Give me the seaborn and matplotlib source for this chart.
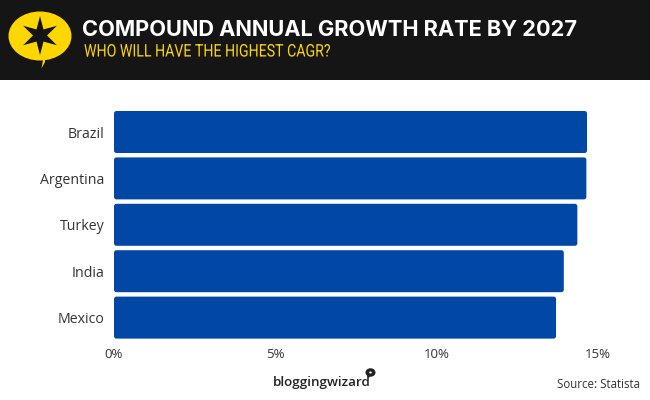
import matplotlib
matplotlib.use("Agg")
import matplotlib.pyplot as plt
from matplotlib.patches import Ellipse, FancyBboxPatch, Polygon, Rectangle
from matplotlib.patheffects import AbstractPathEffect
from matplotlib.transforms import Affine2D
import numpy as np
import pandas as pd
import seaborn as sns

# values
countries = ["Brazil", "Argentina", "Turkey", "India", "Mexico"]
cagr = [14.66, 14.64, 14.36, 13.94, 13.70]
x_ticks = [0, 5, 10, 15]
x_labels = ["0%", "5%", "10%", "15%"]

title = "COMPOUND ANNUAL GROWTH RATE BY 2027"
subtitle = "WHO WILL HAVE THE HIGHEST CAGR?"

BLUE = "#0047A6"
DARK = "#151515"
YELLOW = "#FFD600"
W, H = 650, 400


# no condensed Roboto installed, so squeeze the glyphs sideways when drawing
class Condense(AbstractPathEffect):
    def __init__(self, x0, factor):
        super().__init__()
        self.x0 = x0
        self.factor = factor

    def draw_path(self, renderer, gc, tpath, affine, rgbFace=None):
        squeeze = Affine2D().translate(-self.x0, 0).scale(self.factor, 1).translate(self.x0, 0)
        renderer.draw_path(gc, tpath, affine + squeeze, rgbFace)


sns.set_style("white")
plt.rcParams["font.family"] = ["Open Sans", "DejaVu Sans"]

df = pd.DataFrame({"country": countries, "cagr": cagr})

fig = plt.figure(figsize=(W / 100, H / 100), dpi=100, facecolor="white")

# plot area, in pixels from the top left
left, right, top, bottom = 114, 598, 108.8, 340.8
ax = fig.add_axes([left / W, 1 - bottom / H, (right - left) / W, (bottom - top) / H])
sns.barplot(data=df, x="cagr", y="country", color=BLUE, width=0.905, saturation=1, ax=ax)
ax.set_xlim(0, 15)
ax.set_ylim(4.5, -0.5)
ax.set_xlabel("")
ax.set_ylabel("")
ax.set_xticks(x_ticks, x_labels)
ax.tick_params(axis="x", length=0, labelsize=9.5, labelcolor="#333333", pad=5)
ax.tick_params(axis="y", length=0, labelsize=10.2, labelcolor="#333333", pad=7)
sns.despine(ax=ax, left=True, bottom=True)

# swap the square bars for slightly rounded ones
px_x = (right - left) / 15
px_y = (bottom - top) / 5
for bar in list(ax.patches):
    x0, y0, w, h = bar.get_x(), bar.get_y(), bar.get_width(), bar.get_height()
    bar.remove()
    ax.add_patch(FancyBboxPatch((x0, y0), w, h,
                                boxstyle=f"round,pad=0,rounding_size={2.5 / px_x}",
                                mutation_aspect=px_x / px_y,
                                fc=BLUE, ec="none"))

# overlay in pixel coordinates for the header and footer
over = fig.add_axes([0, 0, 1, 1], facecolor="none")
over.set_xlim(0, W)
over.set_ylim(H, 0)
over.axis("off")
over.add_patch(Rectangle((0, 0), W, 80, fc=DARK, ec="none"))

# speech bubble logo
over.add_patch(Ellipse((40, 36), 63, 49, fc=YELLOW, ec="none"))
over.add_patch(Polygon([[33, 58], [45, 55], [45, 62], [41.5, 68.5], [43, 60]], fc=YELLOW, ec="none"))
angles = np.deg2rad(np.arange(0, 360, 30) - 90)
radii = np.where(np.arange(12) % 2 == 0, 19.5, 7)
star = np.column_stack([40 + radii * np.cos(angles), 35.5 + radii * np.sin(angles)])
over.add_patch(Polygon(star, fc=DARK, ec="none"))

over.text(82, 30.5, title, color="white", fontsize=15.7, fontweight="bold",
          family=["Inter"], va="center", ha="left")
over.text(84, 52, subtitle, color=YELLOW, fontsize=12.5, family=["Roboto"],
          va="center", ha="left", path_effects=[Condense(84, 0.815)])

# footer
over.text(273, 382.5, "bloggingwizard", color="#222222", fontsize=9.6, fontweight=600,
          family=["Open Sans"], va="center", ha="left")
over.add_patch(Ellipse((370.5, 372.5), 10, 8.5, fc="#222222", ec="none"))
over.add_patch(Polygon([[367, 375], [370, 376], [368, 379]], fc="#222222", ec="none"))
over.add_patch(Ellipse((370.5, 372.5), 2.6, 2, fc="white", ec="none"))
over.text(640, 384.5, "Source: Statista", color="#333333", fontsize=8.3,
          va="center", ha="right")

fig.savefig("out.png", dpi=100)
